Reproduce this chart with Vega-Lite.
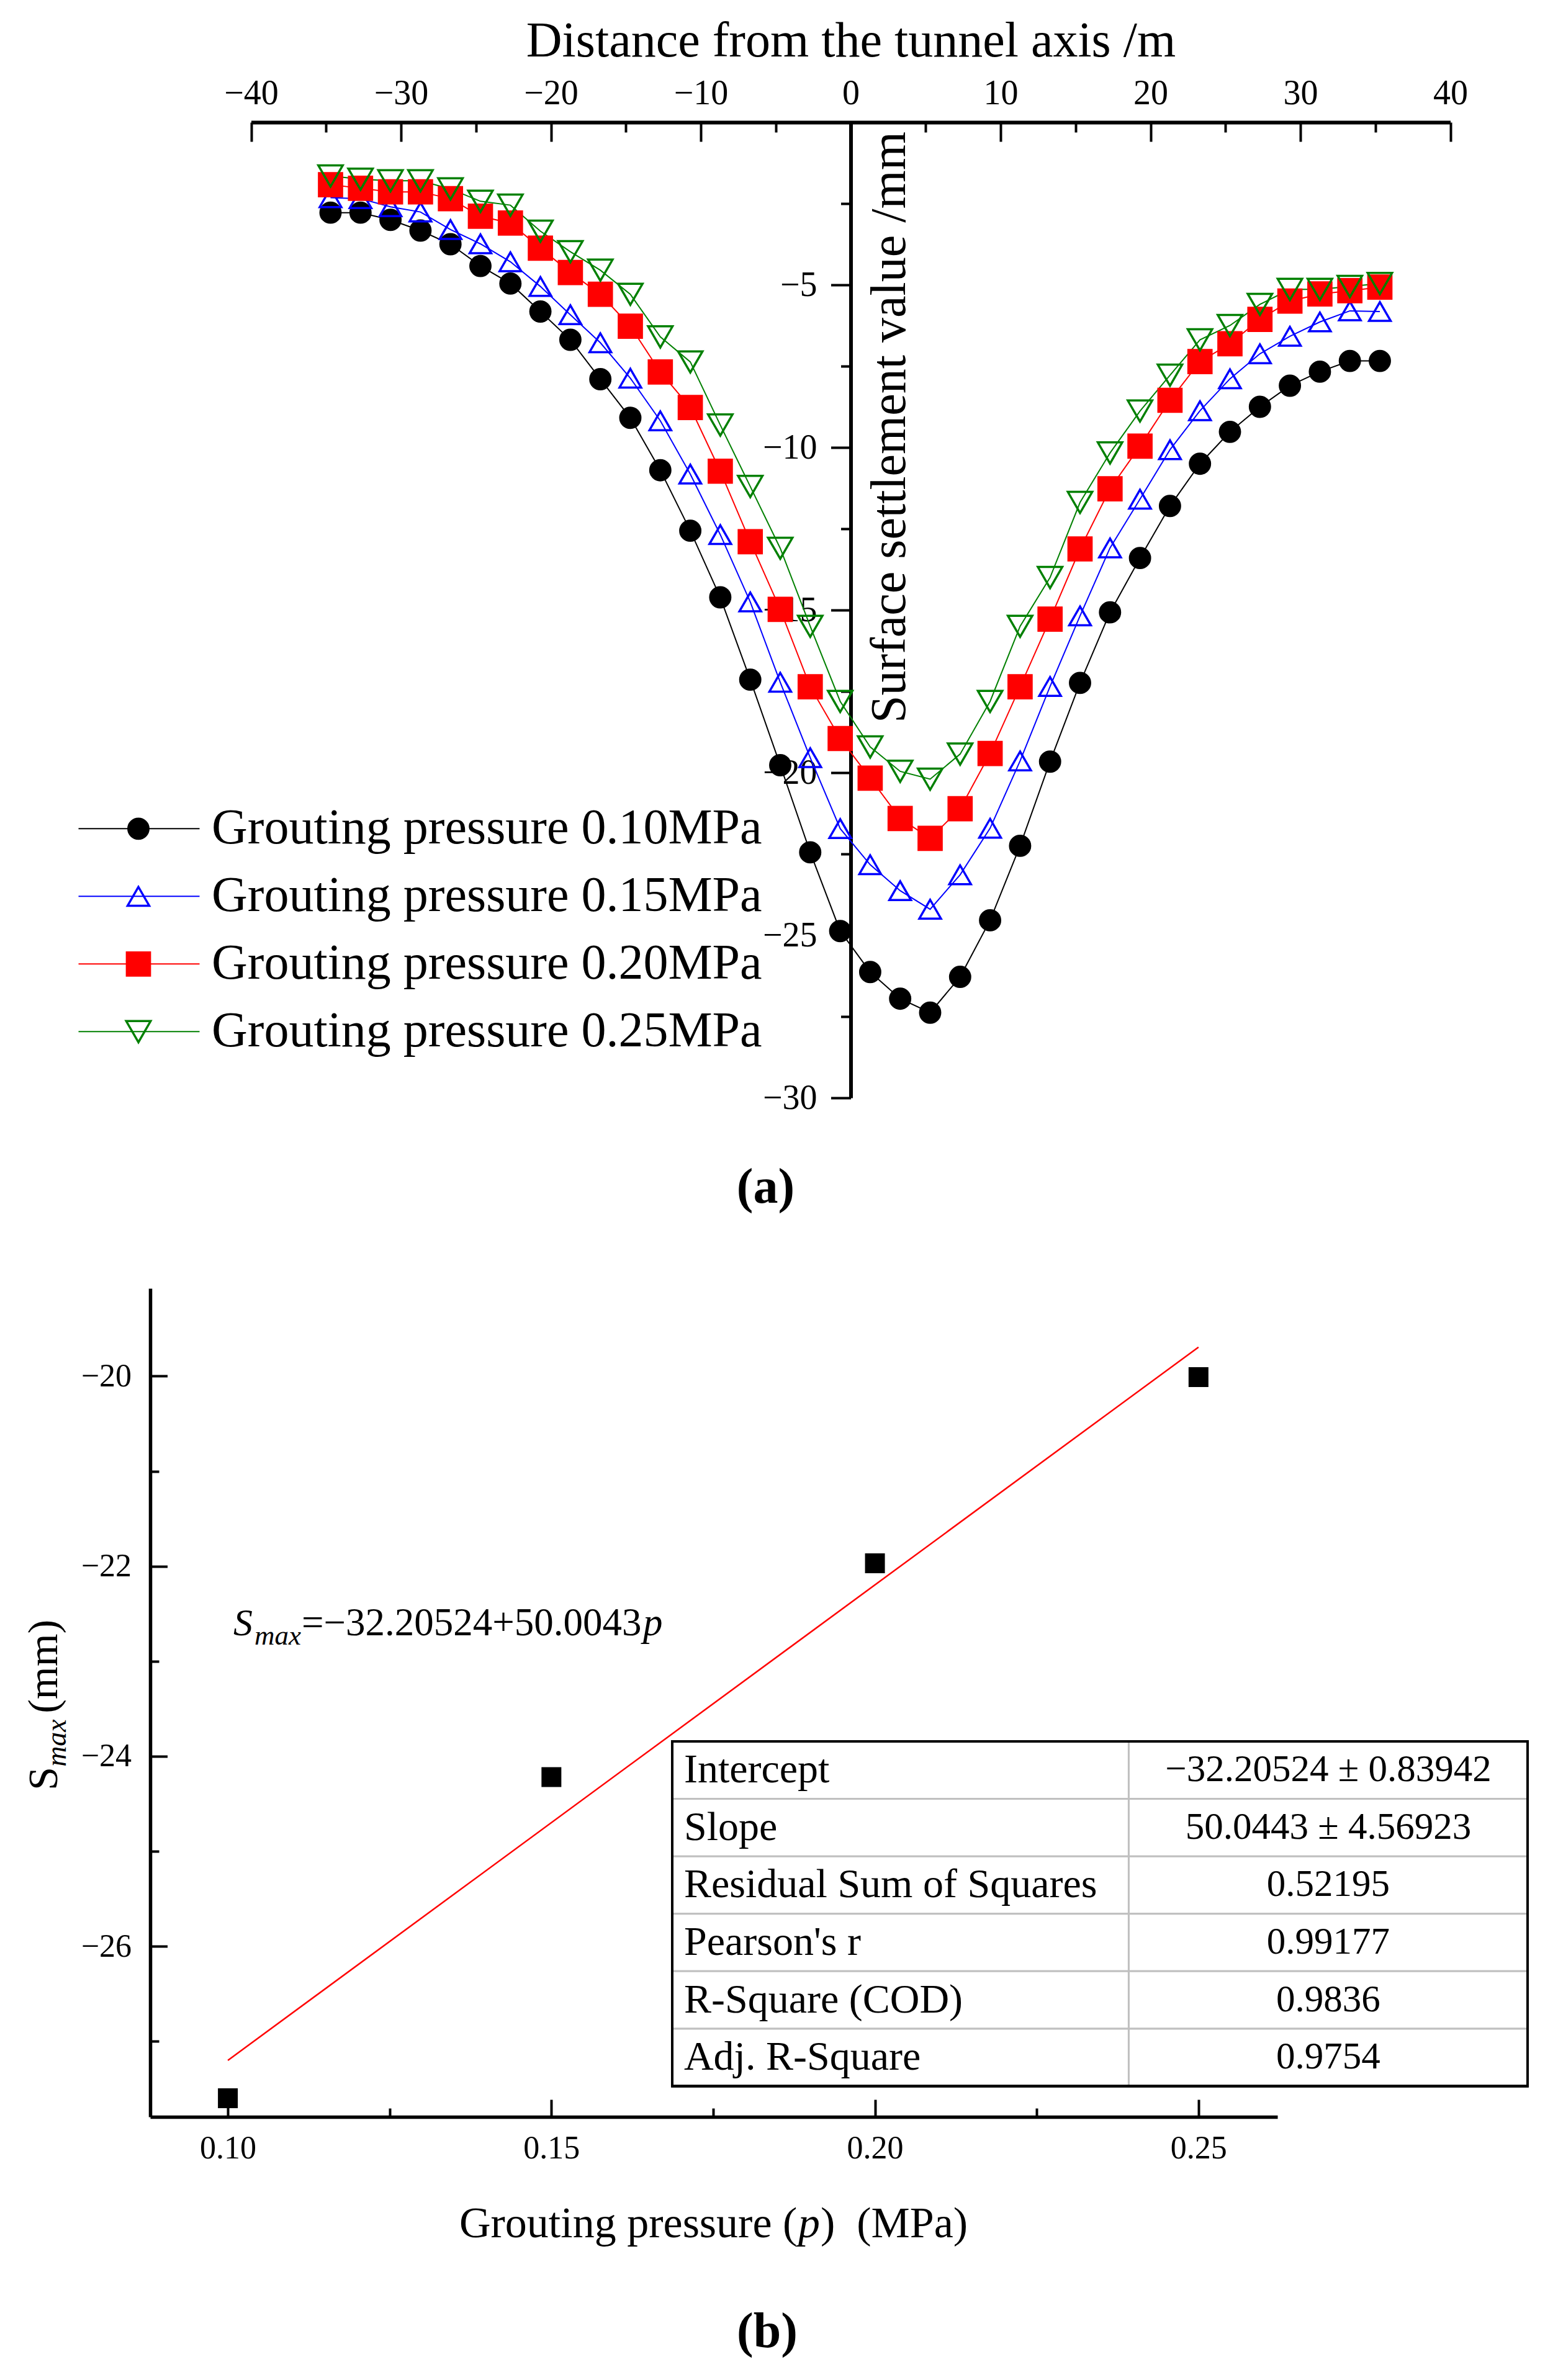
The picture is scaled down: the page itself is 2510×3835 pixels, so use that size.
{
  "$schema": "https://vega.github.io/schema/vega-lite/v6.json",
  "background": "white",
  "padding": {"left": 37, "top": 26, "right": 10, "bottom": 10},
  "bounds": "flush",
  "spacing": 307,
  "config": {
    "view": {"stroke": null},
    "font": "Liberation Serif",
    "axis": {"grid": false, "domainColor": "#000000", "tickColor": "#000000", "labelColor": "#000000", "titleColor": "#000000", "titleFontWeight": "normal", "labelFlush": false, "labelOverlap": false, "labelFont": "Liberation Serif", "titleFont": "Liberation Serif"},
    "legend": {"labelFont": "Liberation Serif"},
    "title": {"font": "Liberation Serif", "color": "#000000"}
  },
  "vconcat": [
    {
      "width": 2095,
      "height": 1572,
      "title": {"text": "(a)", "orient": "bottom", "anchor": "middle", "frame": "group", "dx": -56, "offset": 78, "fontSize": 80, "fontWeight": "bold", "baseline": "top"},
      "data": {"values": [
        {"series":"Grouting pressure 0.10MPa","x":-34.7,"s":-2.78},{"series":"Grouting pressure 0.10MPa","x":-32.7,"s":-2.78},{"series":"Grouting pressure 0.10MPa","x":-30.7,"s":-3.0},{"series":"Grouting pressure 0.10MPa","x":-28.7,"s":-3.33},{"series":"Grouting pressure 0.10MPa","x":-26.7,"s":-3.75},{"series":"Grouting pressure 0.10MPa","x":-24.7,"s":-4.42},{"series":"Grouting pressure 0.10MPa","x":-22.7,"s":-4.96},{"series":"Grouting pressure 0.10MPa","x":-20.7,"s":-5.82},{"series":"Grouting pressure 0.10MPa","x":-18.7,"s":-6.69},{"series":"Grouting pressure 0.10MPa","x":-16.7,"s":-7.9},{"series":"Grouting pressure 0.10MPa","x":-14.7,"s":-9.09},{"series":"Grouting pressure 0.10MPa","x":-12.7,"s":-10.7},{"series":"Grouting pressure 0.10MPa","x":-10.7,"s":-12.56},{"series":"Grouting pressure 0.10MPa","x":-8.7,"s":-14.61},{"series":"Grouting pressure 0.10MPa","x":-6.7,"s":-17.14},{"series":"Grouting pressure 0.10MPa","x":-4.7,"s":-19.77},{"series":"Grouting pressure 0.10MPa","x":-2.7,"s":-22.45},{"series":"Grouting pressure 0.10MPa","x":-0.7,"s":-24.87},{"series":"Grouting pressure 0.10MPa","x":1.3,"s":-26.13},{"series":"Grouting pressure 0.10MPa","x":3.3,"s":-26.95},{"series":"Grouting pressure 0.10MPa","x":5.3,"s":-27.38},{"series":"Grouting pressure 0.10MPa","x":7.3,"s":-26.28},{"series":"Grouting pressure 0.10MPa","x":9.3,"s":-24.54},{"series":"Grouting pressure 0.10MPa","x":11.3,"s":-22.25},{"series":"Grouting pressure 0.10MPa","x":13.3,"s":-19.66},{"series":"Grouting pressure 0.10MPa","x":15.3,"s":-17.24},{"series":"Grouting pressure 0.10MPa","x":17.3,"s":-15.07},{"series":"Grouting pressure 0.10MPa","x":19.3,"s":-13.4},{"series":"Grouting pressure 0.10MPa","x":21.3,"s":-11.8},{"series":"Grouting pressure 0.10MPa","x":23.3,"s":-10.5},{"series":"Grouting pressure 0.10MPa","x":25.3,"s":-9.52},{"series":"Grouting pressure 0.10MPa","x":27.3,"s":-8.75},{"series":"Grouting pressure 0.10MPa","x":29.3,"s":-8.1},{"series":"Grouting pressure 0.10MPa","x":31.3,"s":-7.67},{"series":"Grouting pressure 0.10MPa","x":33.3,"s":-7.34},{"series":"Grouting pressure 0.10MPa","x":35.3,"s":-7.34},
        {"series":"Grouting pressure 0.15MPa","x":-34.7,"s":-2.32},{"series":"Grouting pressure 0.15MPa","x":-32.7,"s":-2.35},{"series":"Grouting pressure 0.15MPa","x":-30.7,"s":-2.6},{"series":"Grouting pressure 0.15MPa","x":-28.7,"s":-2.76},{"series":"Grouting pressure 0.15MPa","x":-26.7,"s":-3.3},{"series":"Grouting pressure 0.15MPa","x":-24.7,"s":-3.74},{"series":"Grouting pressure 0.15MPa","x":-22.7,"s":-4.29},{"series":"Grouting pressure 0.15MPa","x":-20.7,"s":-5.05},{"series":"Grouting pressure 0.15MPa","x":-18.7,"s":-5.92},{"series":"Grouting pressure 0.15MPa","x":-16.7,"s":-6.78},{"series":"Grouting pressure 0.15MPa","x":-14.7,"s":-7.87},{"series":"Grouting pressure 0.15MPa","x":-12.7,"s":-9.18},{"series":"Grouting pressure 0.15MPa","x":-10.7,"s":-10.82},{"series":"Grouting pressure 0.15MPa","x":-8.7,"s":-12.68},{"series":"Grouting pressure 0.15MPa","x":-6.7,"s":-14.75},{"series":"Grouting pressure 0.15MPa","x":-4.7,"s":-17.22},{"series":"Grouting pressure 0.15MPa","x":-2.7,"s":-19.54},{"series":"Grouting pressure 0.15MPa","x":-0.7,"s":-21.72},{"series":"Grouting pressure 0.15MPa","x":1.3,"s":-22.83},{"series":"Grouting pressure 0.15MPa","x":3.3,"s":-23.63},{"series":"Grouting pressure 0.15MPa","x":5.3,"s":-24.2},{"series":"Grouting pressure 0.15MPa","x":7.3,"s":-23.14},{"series":"Grouting pressure 0.15MPa","x":9.3,"s":-21.71},{"series":"Grouting pressure 0.15MPa","x":11.3,"s":-19.64},{"series":"Grouting pressure 0.15MPa","x":13.3,"s":-17.35},{"series":"Grouting pressure 0.15MPa","x":15.3,"s":-15.18},{"series":"Grouting pressure 0.15MPa","x":17.3,"s":-13.09},{"series":"Grouting pressure 0.15MPa","x":19.3,"s":-11.59},{"series":"Grouting pressure 0.15MPa","x":21.3,"s":-10.07},{"series":"Grouting pressure 0.15MPa","x":23.3,"s":-8.87},{"series":"Grouting pressure 0.15MPa","x":25.3,"s":-7.89},{"series":"Grouting pressure 0.15MPa","x":27.3,"s":-7.12},{"series":"Grouting pressure 0.15MPa","x":29.3,"s":-6.58},{"series":"Grouting pressure 0.15MPa","x":31.3,"s":-6.14},{"series":"Grouting pressure 0.15MPa","x":33.3,"s":-5.8},{"series":"Grouting pressure 0.15MPa","x":35.3,"s":-5.82},
        {"series":"Grouting pressure 0.20MPa","x":-34.7,"s":-1.92},{"series":"Grouting pressure 0.20MPa","x":-32.7,"s":-2.03},{"series":"Grouting pressure 0.20MPa","x":-30.7,"s":-2.14},{"series":"Grouting pressure 0.20MPa","x":-28.7,"s":-2.14},{"series":"Grouting pressure 0.20MPa","x":-26.7,"s":-2.35},{"series":"Grouting pressure 0.20MPa","x":-24.7,"s":-2.89},{"series":"Grouting pressure 0.20MPa","x":-22.7,"s":-3.1},{"series":"Grouting pressure 0.20MPa","x":-20.7,"s":-3.87},{"series":"Grouting pressure 0.20MPa","x":-18.7,"s":-4.62},{"series":"Grouting pressure 0.20MPa","x":-16.7,"s":-5.29},{"series":"Grouting pressure 0.20MPa","x":-14.7,"s":-6.27},{"series":"Grouting pressure 0.20MPa","x":-12.7,"s":-7.68},{"series":"Grouting pressure 0.20MPa","x":-10.7,"s":-8.77},{"series":"Grouting pressure 0.20MPa","x":-8.7,"s":-10.73},{"series":"Grouting pressure 0.20MPa","x":-6.7,"s":-12.9},{"series":"Grouting pressure 0.20MPa","x":-4.7,"s":-14.98},{"series":"Grouting pressure 0.20MPa","x":-2.7,"s":-17.36},{"series":"Grouting pressure 0.20MPa","x":-0.7,"s":-18.95},{"series":"Grouting pressure 0.20MPa","x":1.3,"s":-20.17},{"series":"Grouting pressure 0.20MPa","x":3.3,"s":-21.41},{"series":"Grouting pressure 0.20MPa","x":5.3,"s":-22.02},{"series":"Grouting pressure 0.20MPa","x":7.3,"s":-21.11},{"series":"Grouting pressure 0.20MPa","x":9.3,"s":-19.41},{"series":"Grouting pressure 0.20MPa","x":11.3,"s":-17.36},{"series":"Grouting pressure 0.20MPa","x":13.3,"s":-15.28},{"series":"Grouting pressure 0.20MPa","x":15.3,"s":-13.12},{"series":"Grouting pressure 0.20MPa","x":17.3,"s":-11.27},{"series":"Grouting pressure 0.20MPa","x":19.3,"s":-9.96},{"series":"Grouting pressure 0.20MPa","x":21.3,"s":-8.55},{"series":"Grouting pressure 0.20MPa","x":23.3,"s":-7.36},{"series":"Grouting pressure 0.20MPa","x":25.3,"s":-6.81},{"series":"Grouting pressure 0.20MPa","x":27.3,"s":-6.06},{"series":"Grouting pressure 0.20MPa","x":29.3,"s":-5.5},{"series":"Grouting pressure 0.20MPa","x":31.3,"s":-5.28},{"series":"Grouting pressure 0.20MPa","x":33.3,"s":-5.18},{"series":"Grouting pressure 0.20MPa","x":35.3,"s":-5.07},
        {"series":"Grouting pressure 0.25MPa","x":-34.7,"s":-1.65},{"series":"Grouting pressure 0.25MPa","x":-32.7,"s":-1.75},{"series":"Grouting pressure 0.25MPa","x":-30.7,"s":-1.8},{"series":"Grouting pressure 0.25MPa","x":-28.7,"s":-1.8},{"series":"Grouting pressure 0.25MPa","x":-26.7,"s":-2.05},{"series":"Grouting pressure 0.25MPa","x":-24.7,"s":-2.43},{"series":"Grouting pressure 0.25MPa","x":-22.7,"s":-2.55},{"series":"Grouting pressure 0.25MPa","x":-20.7,"s":-3.35},{"series":"Grouting pressure 0.25MPa","x":-18.7,"s":-3.98},{"series":"Grouting pressure 0.25MPa","x":-16.7,"s":-4.55},{"series":"Grouting pressure 0.25MPa","x":-14.7,"s":-5.29},{"series":"Grouting pressure 0.25MPa","x":-12.7,"s":-6.6},{"series":"Grouting pressure 0.25MPa","x":-10.7,"s":-7.37},{"series":"Grouting pressure 0.25MPa","x":-8.7,"s":-9.31},{"series":"Grouting pressure 0.25MPa","x":-6.7,"s":-11.2},{"series":"Grouting pressure 0.25MPa","x":-4.7,"s":-13.1},{"series":"Grouting pressure 0.25MPa","x":-2.7,"s":-15.5},{"series":"Grouting pressure 0.25MPa","x":-0.7,"s":-17.81},{"series":"Grouting pressure 0.25MPa","x":1.3,"s":-19.21},{"series":"Grouting pressure 0.25MPa","x":3.3,"s":-19.96},{"series":"Grouting pressure 0.25MPa","x":5.3,"s":-20.2},{"series":"Grouting pressure 0.25MPa","x":7.3,"s":-19.43},{"series":"Grouting pressure 0.25MPa","x":9.3,"s":-17.81},{"series":"Grouting pressure 0.25MPa","x":11.3,"s":-15.5},{"series":"Grouting pressure 0.25MPa","x":13.3,"s":-14.0},{"series":"Grouting pressure 0.25MPa","x":15.3,"s":-11.69},{"series":"Grouting pressure 0.25MPa","x":17.3,"s":-10.17},{"series":"Grouting pressure 0.25MPa","x":19.3,"s":-8.88},{"series":"Grouting pressure 0.25MPa","x":21.3,"s":-7.78},{"series":"Grouting pressure 0.25MPa","x":23.3,"s":-6.69},{"series":"Grouting pressure 0.25MPa","x":25.3,"s":-6.25},{"series":"Grouting pressure 0.25MPa","x":27.3,"s":-5.6},{"series":"Grouting pressure 0.25MPa","x":29.3,"s":-5.14},{"series":"Grouting pressure 0.25MPa","x":31.3,"s":-5.14},{"series":"Grouting pressure 0.25MPa","x":33.3,"s":-5.05},{"series":"Grouting pressure 0.25MPa","x":35.3,"s":-4.96}
      ]},
      "encoding": {
        "x": {
          "field": "x", "type": "quantitative",
          "scale": {"domain": [-40, 40], "range": [162.5, 2094.5], "nice": false, "zero": false},
          "axis": {
            "orient": "top", "title": "Distance from the tunnel axis /m",
            "values": [-40,-35,-30,-25,-20,-15,-10,-5,0,5,10,15,20,25,30,35,40],
            "format": "d",
            "labelExpr": "datum.value % 10 == 0 ? datum.label : ''",
            "tickSize": {"condition": {"test": "datum.value % 10 != 0", "value": -16}, "value": -31},
            "tickWidth": 4, "domainWidth": 6, "labelPadding": 49, "labelFontSize": 56,
            "titleFontSize": 80, "titleX": 1128.5, "titleY": -107, "titleBaseline": "alphabetic", "titleAlign": "center", "titleAngle": 0
          }
        },
        "y": {
          "field": "s", "type": "quantitative",
          "scale": {"domain": [-30, 0], "nice": false, "zero": false},
          "axis": {
            "orient": "left", "offset": -1128.5, "title": "Surface settlement value /mm",
            "values": [-30,-27.5,-25,-22.5,-20,-17.5,-15,-12.5,-10,-7.5,-5,-2.5],
            "format": "d",
            "labelExpr": "datum.value % 5 == 0 ? datum.label : ''",
            "tickSize": {"condition": {"test": "datum.value % 5 != 0", "value": 16}, "value": 32},
            "tickWidth": 4, "domainWidth": 6, "labelPadding": 22.5, "labelFontSize": 56,
            "titleFontSize": 80, "titleX": 86.5, "titleY": 491, "titleAngle": 270, "titleBaseline": "alphabetic", "titleAlign": "center"
          }
        }
      },
      "layer": [
        {
          "mark": {"type": "line", "strokeWidth": 2},
          "encoding": {
            "stroke": {
              "field": "series", "type": "nominal",
              "scale": {"domain": ["Grouting pressure 0.10MPa","Grouting pressure 0.15MPa","Grouting pressure 0.20MPa","Grouting pressure 0.25MPa"], "range": ["#000000","#0000ff","#ff0000","#008000"]},
              "legend": {"title": null, "orient": "none", "legendX": -116.5, "legendY": 1084, "symbolType": "stroke", "symbolSize": 38025, "symbolStrokeWidth": 2, "clipHeight": 108.7, "rowPadding": 0, "labelExpr": "''", "labelFontSize": 10, "padding": 0, "symbolOffset": 0}
            }
          }
        },
        {
          "mark": {"type": "point", "strokeWidth": 3.5, "opacity": 1},
          "encoding": {
            "color": {"field": "series", "type": "nominal", "scale": {"range": ["#000000","#0000ff","#ff0000","#008000"]},
              "legend": {"title": null, "orient": "none", "legendX": -59, "legendY": 1084, "symbolSize": 1250, "symbolStrokeWidth": 3.5, "clipHeight": 108.7, "rowPadding": 0, "labelFontSize": 80, "labelColor": "#000000", "labelOffset": 78, "labelLimit": 3000, "padding": 0, "symbolOffset": 0}},
            "shape": {"field": "series", "type": "nominal", "scale": {"range": ["circle","triangle-up","square","triangle-down"]},
              "legend": {"title": null, "orient": "none", "legendX": -59, "legendY": 1084, "symbolSize": 1250, "symbolStrokeWidth": 3.5, "clipHeight": 108.7, "rowPadding": 0, "labelFontSize": 80, "labelColor": "#000000", "labelOffset": 78, "labelLimit": 3000, "padding": 0, "symbolOffset": 0}},
            "fill": {"field": "series", "type": "nominal", "scale": {"range": ["#000000","transparent","#ff0000","transparent"]},
              "legend": {"title": null, "orient": "none", "legendX": -59, "legendY": 1084, "symbolSize": 1250, "symbolStrokeWidth": 3.5, "clipHeight": 108.7, "rowPadding": 0, "labelFontSize": 80, "labelColor": "#000000", "labelOffset": 78, "labelLimit": 3000, "padding": 0, "symbolOffset": 0}},
            "size": {"field": "series", "type": "nominal", "scale": {"range": [1050,1550,1100,1550]}, "legend": null}
          }
        }
      ]
    },
    {
      "width": 1816,
      "height": 1335,
      "title": {"text": "(b)", "orient": "bottom", "anchor": "middle", "frame": "group", "dx": 86, "offset": 100, "fontSize": 80, "fontWeight": "bold", "baseline": "top"},
      "layer": [
        {
          "layer": [
            {
              "data": {"values": [{"p": 0.10, "smax": -27.2008}, {"p": 0.25, "smax": -19.6942}]},
              "mark": {"type": "line", "color": "#ff0000", "strokeWidth": 2.5},
              "encoding": {
                "x": {
                  "field": "p", "type": "quantitative",
                  "scale": {"domain": [0.0880, 0.2622], "nice": false, "zero": false},
                  "axis": {
                    "title": null,
                    "values": [0.1, 0.125, 0.15, 0.175, 0.2, 0.225, 0.25],
                    "labelExpr": "round(datum.value * 1000) % 50 == 0 ? format(datum.value, '.2f') : ''",
                    "tickSize": {"condition": {"test": "round(datum.value * 1000) % 50 != 0", "value": -14}, "value": -28},
                    "tickWidth": 4, "domainWidth": 5.5, "labelPadding": 53.5, "labelFontSize": 52
                  }
                },
                "y": {
                  "field": "smax", "type": "quantitative",
                  "scale": {"domain": [-27.7955, -19.0758], "nice": false, "zero": false},
                  "axis": {
                    "title": null,
                    "values": [-27, -26, -25, -24, -23, -22, -21, -20],
                    "format": "d",
                    "labelExpr": "datum.value % 2 == 0 ? datum.label : ''",
                    "tickSize": {"condition": {"test": "datum.value % 2 != 0", "value": -14}, "value": -27.5},
                    "tickWidth": 4, "domainWidth": 5.5, "labelPadding": 58, "labelFontSize": 52
                  }
                }
              }
            },
            {
              "data": {"values": [{"p": 0.10, "smax": -27.60}, {"p": 0.15, "smax": -24.22}, {"p": 0.20, "smax": -21.97}, {"p": 0.25, "smax": -20.01}]},
              "mark": {"type": "square", "size": 1024, "opacity": 1, "color": "#000000"},
              "encoding": {
                "x": {"field": "p", "type": "quantitative"},
                "y": {"field": "smax", "type": "quantitative"}
              }
            },
            {
              "data": {"values": [{}]},
              "encoding": {"x": {"datum": 0.10085, "type": "quantitative"}, "y": {"datum": -22.725, "type": "quantitative"}},
              "layer": [
                {"mark": {"type": "text", "text": "S", "fontStyle": "italic", "fontSize": 62, "align": "left", "baseline": "alphabetic", "color": "#000000"}},
                {"mark": {"type": "text", "text": "max", "fontStyle": "italic", "fontSize": 45, "align": "left", "baseline": "alphabetic", "dx": 34, "dy": 15, "color": "#000000"}},
                {"mark": {"type": "text", "text": "=−32.20524+50.0043", "fontSize": 63, "align": "left", "baseline": "alphabetic", "dx": 110, "color": "#000000"}},
                {"mark": {"type": "text", "text": "p", "fontStyle": "italic", "fontSize": 63, "align": "left", "baseline": "alphabetic", "dx": 660, "color": "#000000"}}
              ]
            },
            {
              "data": {"values": [{}]},
              "encoding": {"x": {"datum": 0.07361, "type": "quantitative"}, "y": {"datum": -24.359, "type": "quantitative"}},
              "layer": [
                {"mark": {"type": "text", "text": "S", "fontSize": 68, "angle": 270, "align": "left", "baseline": "alphabetic", "color": "#000000"}},
                {"mark": {"type": "text", "text": "max", "fontStyle": "italic", "fontSize": 46, "angle": 270, "align": "left", "baseline": "alphabetic", "dx": 38, "dy": 14, "color": "#000000"}},
                {"mark": {"type": "text", "text": "(mm)", "fontSize": 68, "angle": 270, "align": "left", "baseline": "alphabetic", "dx": 124, "color": "#000000"}}
              ]
            },
            {
              "data": {"values": [{}]},
              "encoding": {"x": {"datum": 0.13577, "type": "quantitative"}, "y": {"datum": -29.0595, "type": "quantitative"}},
              "layer": [
                {"mark": {"type": "text", "text": "Grouting pressure (", "fontSize": 70, "align": "left", "baseline": "alphabetic", "color": "#000000"}},
                {"mark": {"type": "text", "text": "p", "fontStyle": "italic", "fontSize": 70, "align": "left", "baseline": "alphabetic", "dx": 546, "color": "#000000"}},
                {"mark": {"type": "text", "text": ")\u00a0 (MPa)", "fontSize": 70, "align": "left", "baseline": "alphabetic", "dx": 582, "color": "#000000"}}
              ]
            }
          ]
        },
        {
          "data": {"values": [
            {"param": "Intercept", "value": "−32.20524 ± 0.83942"},
            {"param": "Slope", "value": "50.0443 ± 4.56923"},
            {"param": "Residual Sum of Squares", "value": "0.52195"},
            {"param": "Pearson's r", "value": "0.99177"},
            {"param": "R-Square (COD)", "value": "0.9836"},
            {"param": "Adj. R-Square", "value": "0.9754"}
          ]},
          "encoding": {
            "y": {
              "field": "param", "type": "nominal", "sort": null, "axis": null,
              "scale": {"type": "band", "domain": ["Intercept", "Slope", "Residual Sum of Squares", "Pearson's r", "R-Square (COD)", "Adj. R-Square"], "range": [730, 1285.5], "paddingInner": 0, "paddingOuter": 0}
            }
          },
          "layer": [
            {"mark": {"type": "rect", "fill": "#ffffff", "stroke": "#c0c0c0", "strokeWidth": 3}, "encoding": {"x": {"datum": 0.16867, "type": "quantitative"}, "x2": {"datum": 0.23922}}},
            {"mark": {"type": "rect", "fill": "#ffffff", "stroke": "#c0c0c0", "strokeWidth": 3}, "encoding": {"x": {"datum": 0.23922, "type": "quantitative"}, "x2": {"datum": 0.30086}}},
            {"mark": {"type": "rect", "fill": "transparent", "stroke": "#000000", "strokeWidth": 3.5}, "encoding": {"x": {"datum": 0.16867, "type": "quantitative"}, "x2": {"datum": 0.30086}, "y": {"datum": "Intercept", "type": "nominal", "bandPosition": 0}, "y2": {"datum": "Adj. R-Square", "bandPosition": 1}}},
            {"mark": {"type": "text", "align": "left", "baseline": "middle", "fontSize": 66, "color": "#000000"}, "encoding": {"x": {"datum": 0.17049, "type": "quantitative"}, "text": {"field": "param"}}},
            {"mark": {"type": "text", "align": "center", "baseline": "middle", "fontSize": 61, "color": "#000000"}, "encoding": {"x": {"datum": 0.27006, "type": "quantitative"}, "text": {"field": "value"}}}
          ]
        }
      ],
      "resolve": {"scale": {"y": "independent"}}
    }
  ]
}
